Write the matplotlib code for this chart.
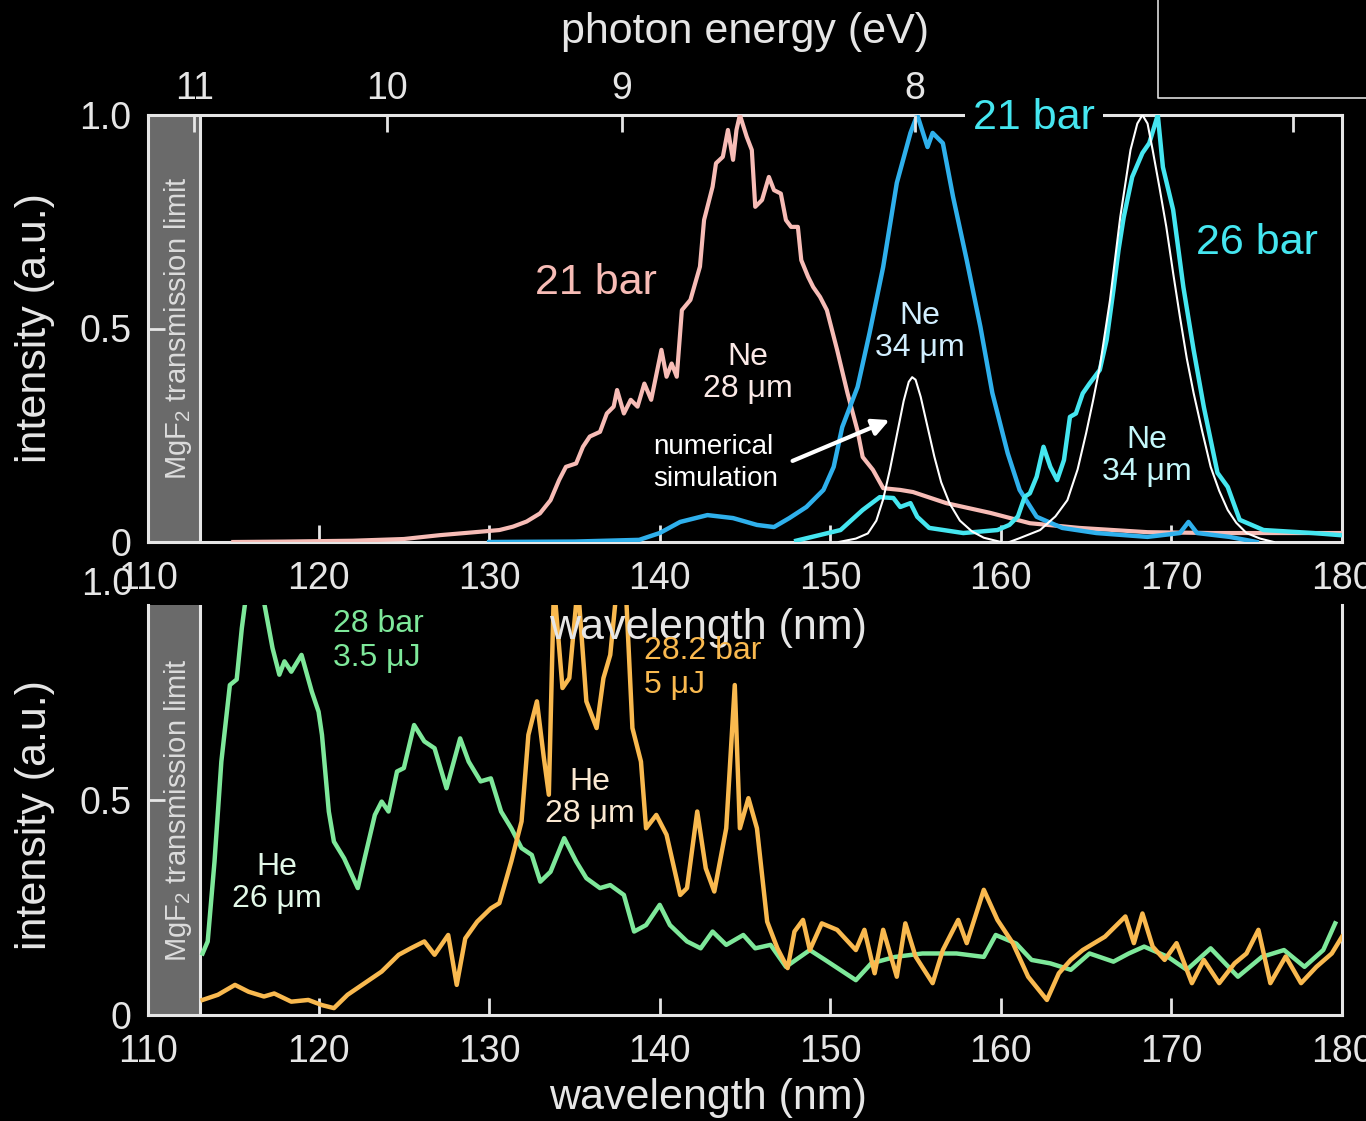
import numpy as np
import matplotlib.pyplot as plt
from matplotlib.patches import FancyArrowPatch

plt.rcParams['font.family'] = ['Liberation Sans', 'DejaVu Sans']
plt.rcParams['mathtext.fontset'] = 'custom'
plt.rcParams['mathtext.rm'] = 'Liberation Sans'

# --- top panel: Ne, 28 um fibre, 21 bar (pink)
pink_nm = [115.0, 118.0, 120.0, 122.0, 125.0, 127.1, 129.46, 130.6, 131.4, 132.2, 132.98,
           133.6, 134.1, 134.5, 135.1, 135.5, 135.9, 136.5, 136.9, 137.3, 137.5, 137.9,
           138.3, 138.7, 139.1, 139.5, 140.1, 140.4, 140.7, 141.0, 141.3, 141.8, 142.36,
           142.6, 143.1, 143.3, 143.7, 144.0, 144.3, 144.5, 144.7, 145.1, 145.4, 145.6,
           146.0, 146.4, 146.7, 147.1, 147.4, 147.7, 148.1, 148.3, 148.7, 149.0, 149.4,
           149.8, 150.4, 151.0, 151.6, 151.9, 152.5, 153.1, 154.1, 154.85, 156.8, 159.4,
           161.7, 164.6, 168.6, 172.4, 176.4, 179.9]
pink_i = [0.0, 0.001, 0.002, 0.003, 0.007, 0.016, 0.024, 0.028, 0.036, 0.048, 0.067,
          0.098, 0.145, 0.176, 0.184, 0.223, 0.247, 0.258, 0.301, 0.317, 0.356, 0.301,
          0.333, 0.317, 0.371, 0.333, 0.450, 0.387, 0.418, 0.387, 0.543, 0.567, 0.645,
          0.754, 0.832, 0.887, 0.902, 0.965, 0.895, 0.965, 1.0, 0.949, 0.918, 0.785,
          0.801, 0.855, 0.824, 0.816, 0.754, 0.738, 0.738, 0.660, 0.621, 0.597, 0.574,
          0.543, 0.450, 0.350, 0.260, 0.199, 0.169, 0.126, 0.122, 0.117, 0.091, 0.068,
          0.044, 0.033, 0.023, 0.021, 0.021, 0.021]

# Ne, 34 um fibre, 21 bar (blue)
blue_nm = [130.0, 135.0, 138.8, 140.0, 141.2, 142.8, 144.3, 145.7, 146.7, 147.6, 148.6,
           149.6, 150.2, 150.7, 151.6, 152.3, 153.1, 153.9, 154.7, 155.1, 155.7, 156.0,
           156.6, 157.2, 158.0, 158.8, 159.5, 160.4, 161.1, 162.1, 163.6, 165.6, 168.6,
           170.5, 171.0, 171.5, 173.4, 175.0]
blue_i = [0.0, 0.001, 0.005, 0.021, 0.047, 0.063, 0.056, 0.040, 0.035, 0.056, 0.082,
          0.122, 0.176, 0.269, 0.363, 0.489, 0.644, 0.841, 0.958, 1.0, 0.925, 0.958,
          0.934, 0.808, 0.660, 0.504, 0.349, 0.208, 0.122, 0.059, 0.033, 0.021, 0.012,
          0.021, 0.047, 0.021, 0.012, 0.0]

# Ne, 34 um fibre, 26 bar (cyan)
cyan_nm = [148.0, 150.6, 151.9, 152.9, 153.7, 154.1, 154.7, 155.1, 155.8, 157.8, 159.8,
           160.5, 161.0, 161.4, 161.7, 162.1, 162.5, 162.9, 163.3, 163.7, 164.05, 164.4,
           164.8, 165.2, 165.8, 166.2, 166.6, 166.9, 167.2, 167.7, 168.3, 168.7, 169.2,
           169.5, 170.1, 170.7, 171.3, 171.9, 172.7, 173.3, 174.0, 175.4, 178.3, 179.9]
cyan_i = [0.003, 0.028, 0.075, 0.105, 0.103, 0.082, 0.091, 0.059, 0.033, 0.021, 0.028,
          0.040, 0.060, 0.106, 0.114, 0.153, 0.223, 0.176, 0.145, 0.192, 0.293, 0.301,
          0.348, 0.371, 0.403, 0.473, 0.590, 0.684, 0.760, 0.855, 0.911, 0.934, 1.0,
          0.878, 0.778, 0.597, 0.450, 0.316, 0.162, 0.129, 0.052, 0.028, 0.021, 0.016]

# numerical simulations (white)
sim1_nm = [150.5, 151.5, 152.2, 152.7, 153.1, 153.5, 153.9, 154.3, 154.6, 154.8, 155.0,
           155.3, 155.7, 156.1, 156.5, 157.0, 157.6, 158.3, 159.0, 160.0]
sim1_i = [0.0, 0.008, 0.02, 0.05, 0.10, 0.17, 0.25, 0.33, 0.375, 0.386, 0.38,
          0.34, 0.27, 0.20, 0.14, 0.09, 0.05, 0.025, 0.01, 0.0]
sim2_nm = [160.5, 161.1, 162.3, 163.2, 163.9, 164.5, 165.0, 165.4, 165.8, 166.4, 167.0,
           167.6, 168.0, 168.3, 168.6, 168.9, 169.3, 169.7, 170.1, 170.5, 170.9, 171.3,
           171.8, 172.3, 172.8, 173.3, 173.8, 174.4, 175.2, 176.0]
sim2_i = [0.0, 0.009, 0.028, 0.06, 0.098, 0.17, 0.255, 0.33, 0.41, 0.567, 0.761,
          0.918, 0.98, 1.0, 0.98, 0.918, 0.83, 0.738, 0.63, 0.527, 0.43, 0.349,
          0.26, 0.176, 0.12, 0.075, 0.045, 0.021, 0.008, 0.0]

# --- bottom panel: He, 26 um, 28 bar, 3.5 uJ (green)
green_nm = [113.2, 113.5, 113.9, 114.3, 114.8, 115.2, 115.5, 115.9, 116.4, 116.8, 117.3,
            117.7, 118.0, 118.4, 119.0, 119.6, 120.0, 120.2, 120.6, 120.9, 121.5, 122.3,
            122.7, 123.3, 123.7, 124.1, 124.6, 125.0, 125.6, 126.2, 126.8, 127.5, 128.3,
            128.8, 129.5, 130.1, 130.7, 131.3, 131.9, 132.5, 133.0, 133.6, 134.4, 135.1,
            135.7, 136.5, 137.1, 137.9, 138.5, 139.2, 140.0, 140.6, 141.6, 142.4, 143.1,
            143.9, 144.9, 145.6, 146.5, 147.4, 148.8, 149.7, 151.5, 152.4, 153.8, 155.4,
            157.4, 159.0, 159.7, 160.9, 161.8, 162.9, 164.1, 165.2, 166.6, 167.5, 168.4,
            169.8, 170.9, 172.3, 173.9, 175.3, 176.6, 177.8, 178.9, 179.6]
green_i = [0.143, 0.171, 0.357, 0.589, 0.767, 0.78, 0.899, 1.02, 1.05, 0.96, 0.853,
           0.791, 0.822, 0.798, 0.837, 0.752, 0.705, 0.651, 0.473, 0.403, 0.364, 0.295,
           0.364, 0.465, 0.496, 0.473, 0.566, 0.574, 0.674, 0.636, 0.620, 0.527, 0.643,
           0.589, 0.543, 0.550, 0.473, 0.434, 0.388, 0.372, 0.310, 0.333, 0.411, 0.357,
           0.318, 0.295, 0.302, 0.279, 0.194, 0.209, 0.256, 0.209, 0.171, 0.155, 0.194,
           0.163, 0.186, 0.155, 0.163, 0.112, 0.151, 0.128, 0.081, 0.120, 0.135, 0.143,
           0.143, 0.135, 0.186, 0.166, 0.128, 0.120, 0.105, 0.143, 0.124, 0.143, 0.159,
           0.135, 0.105, 0.155, 0.089, 0.135, 0.151, 0.112, 0.151, 0.213]

# He, 28 um, 28.2 bar, 5 uJ (orange)
orange_nm = [113.2, 114.1, 115.1, 115.9, 116.8, 117.4, 118.4, 119.4, 120.2, 120.9, 121.7,
             122.7, 123.7, 124.7, 125.4, 126.2, 126.8, 127.6, 128.1, 128.6, 129.3, 130.1,
             130.6, 131.3, 131.9, 132.3, 132.8, 133.2, 133.5, 133.8, 134.3, 134.7, 135.2,
             135.7, 136.3, 136.7, 137.1, 137.5, 138.0, 138.4, 138.9, 139.2, 139.8, 140.4,
             141.2, 141.6, 142.2, 142.7, 143.2, 143.9, 144.4, 144.7, 145.2, 145.7, 146.3,
             146.9, 147.5, 147.9, 148.4, 148.8, 149.5, 150.4, 151.5, 152.0, 152.6, 153.1,
             153.9, 154.4, 155.0, 156.0, 156.6, 157.5, 158.0, 159.0, 159.8, 160.7, 161.6,
             162.7, 163.4, 164.1, 164.8, 166.1, 167.3, 167.8, 168.3, 168.9, 169.6, 170.3,
             171.2, 171.9, 172.8, 173.7, 174.4, 175.1, 175.8, 176.7, 177.6, 178.5, 179.4,
             180.0]
orange_i = [0.035, 0.047, 0.070, 0.054, 0.043, 0.050, 0.031, 0.035, 0.023, 0.016, 0.047,
            0.074, 0.101, 0.140, 0.155, 0.171, 0.140, 0.186, 0.070, 0.178, 0.217, 0.248,
            0.260, 0.357, 0.450, 0.651, 0.729, 0.600, 0.512, 1.0, 0.760, 0.783, 1.0,
            0.729, 0.667, 0.783, 0.837, 1.0, 1.0, 0.667, 0.589, 0.434, 0.465, 0.419,
            0.279, 0.295, 0.473, 0.341, 0.287, 0.434, 0.767, 0.434, 0.504, 0.434, 0.217,
            0.155, 0.109, 0.194, 0.221, 0.151, 0.213, 0.198, 0.151, 0.198, 0.097, 0.198,
            0.089, 0.213, 0.136, 0.074, 0.151, 0.221, 0.167, 0.291, 0.221, 0.167, 0.089,
            0.035, 0.097, 0.128, 0.151, 0.182, 0.229, 0.167, 0.236, 0.159, 0.128, 0.167,
            0.074, 0.128, 0.074, 0.120, 0.143, 0.198, 0.074, 0.136, 0.074, 0.112, 0.143,
            0.182]

wl_ticks = [110, 120, 130, 140, 150, 160, 170, 180]
ev_ticks = [11, 10, 9, 8, 7]
ev_labels = ['11', '10', '9', '8', '']

PINK = '#f7bcb6'
BLUE = '#2fb0ec'
CYAN = '#45e6f0'
GREEN = '#7ee89a'
ORANGE = '#f9b94f'
FG = '#e6e6e6'

fig = plt.figure(figsize=(13.66, 11.21), dpi=100, facecolor='black')
W, H = 1366, 1121


def px_axes(x0, y0, x1, y1):
    return fig.add_axes([x0 / W, 1 - y1 / H, (x1 - x0) / W, (y1 - y0) / H])


def ftext(x, y, s, **kw):
    return fig.text(x / W, 1 - y / H, s, **kw)


ax1 = px_axes(148, 115, 1342, 542)
ax2 = px_axes(148, 605, 1342, 1015)

for ax in (ax1, ax2):
    ax.set_facecolor('black')
    ax.set_xlim(110, 180)
    ax.set_xticks(wl_ticks)
    ax.tick_params(axis='both', direction='in', colors=FG, labelsize=27,
                   length=12, width=2, pad=12)
    ax.tick_params(axis='x', pad=14)
    for s in ax.spines.values():
        s.set_color(FG)
        s.set_linewidth(2.2)
    # MgF2 cut-off region
    ax.axvspan(110, 113.05, color='#6a6a6a', zorder=1, lw=0)
    ax.axvline(113.05, color=FG, lw=2.2, zorder=2)

ax1.set_ylim(0, 1.0)
ax1.set_yticks([0, 0.5, 1.0])
ax1.set_yticklabels(['0', '0.5', '1.0'])
ax2.set_ylim(0, 0.953)
ax2.set_yticks([0, 0.5])
ax2.set_yticklabels(['0', '0.5'])
ax2.spines['top'].set_visible(False)
ax2.text(-0.012, 1.0, '1.0', transform=ax2.get_yaxis_transform(), ha='right',
         va='center', fontsize=27, color=FG, clip_on=False)

ax1.plot(pink_nm, pink_i, color=PINK, lw=3, zorder=3)
ax1.plot(blue_nm, blue_i, color=BLUE, lw=3.2, zorder=4)
ax1.plot(cyan_nm, cyan_i, color=CYAN, lw=3.2, zorder=5)
ax1.plot(sim1_nm, sim1_i, color='white', lw=1.5, zorder=6)
ax1.plot(sim2_nm, sim2_i, color='white', lw=1.5, zorder=6)

ax2.plot(green_nm, green_i, color=GREEN, lw=3.2, zorder=3)
ax2.plot(orange_nm, orange_i, color=ORANGE, lw=3.2, zorder=4)

# photon energy axis on top
top = ax1.twiny()
top.set_xlim(ax1.get_xlim())
top.set_xticks(1239.84 / np.array(ev_ticks))
top.set_xticklabels(ev_labels)
top.tick_params(axis='x', direction='in', colors=FG, labelsize=27, length=12,
                width=2, pad=6)
for s in top.spines.values():
    s.set_visible(False)

for ax, yc in ((ax1, 0.5), (ax2, 0.477)):
    ax.text(111.75, yc, r'MgF$_\mathregular{2}$ transmission limit', rotation=90,
            ha='center', va='center', fontsize=21, color='#dcdcdc', zorder=3)

ftext(745, 32, 'photon energy (eV)', ha='center', va='center', fontsize=31, color=FG)
ftext(708, 628, 'wavelength (nm)', ha='center', va='center', fontsize=31, color=FG)
ftext(708, 1098, 'wavelength (nm)', ha='center', va='center', fontsize=31, color=FG)
ftext(35, 328, 'intensity (a.u.)', rotation=90, ha='center', va='center',
      fontsize=31, color=FG)
ftext(35, 815, 'intensity (a.u.)', rotation=90, ha='center', va='center',
      fontsize=31, color=FG)

ftext(596, 283, '21 bar', ha='center', va='center', fontsize=31, color=PINK)
ftext(1034, 118, '21 bar', ha='center', va='center', fontsize=31, color=CYAN,
      bbox=dict(facecolor='black', edgecolor='none', pad=6), zorder=10)
ftext(1257, 243, '26 bar', ha='center', va='center', fontsize=31, color=CYAN)
ftext(748, 373, 'Ne\n28 μm', ha='center', va='center', fontsize=23,
      color='#fbe9e6', linespacing=1.1)
ftext(920, 332, 'Ne\n34 μm', ha='center', va='center', fontsize=23,
      color='#d2efff', linespacing=1.1)
ftext(1147, 456, 'Ne\n34 μm', ha='center', va='center', fontsize=23,
      color='#c4f7fa', linespacing=1.1)
ftext(653, 463, 'numerical\nsimulation', ha='left', va='center', fontsize=20,
      color='white', linespacing=1.25)
fig.patches.append(FancyArrowPatch(
    (790 / W, 1 - 462 / H), (892 / W, 1 - 419 / H), transform=fig.transFigure,
    arrowstyle='-|>', mutation_scale=25, color='white', lw=3))

ftext(333, 641, '28 bar\n3.5 μJ', ha='left', va='center', fontsize=23,
      color=GREEN, linespacing=1.2)
ftext(644, 668, '28.2 bar\n5 μJ', ha='left', va='center', fontsize=23,
      color=ORANGE, linespacing=1.2)
ftext(277, 883, 'He\n26 μm', ha='center', va='center', fontsize=23,
      color='#e2f8e8', linespacing=1.1)
ftext(590, 798, 'He\n28 μm', ha='center', va='center', fontsize=23,
      color='#fbe9d2', linespacing=1.1)

# corner of the inset frame at top right
fig.add_artist(plt.Line2D([1158 / W, 1158 / W, 1], [1, 1 - 98 / H, 1 - 98 / H],
                          transform=fig.transFigure, color='#dddddd', lw=1.2))

fig.savefig('out.png', dpi=100, facecolor='black')
